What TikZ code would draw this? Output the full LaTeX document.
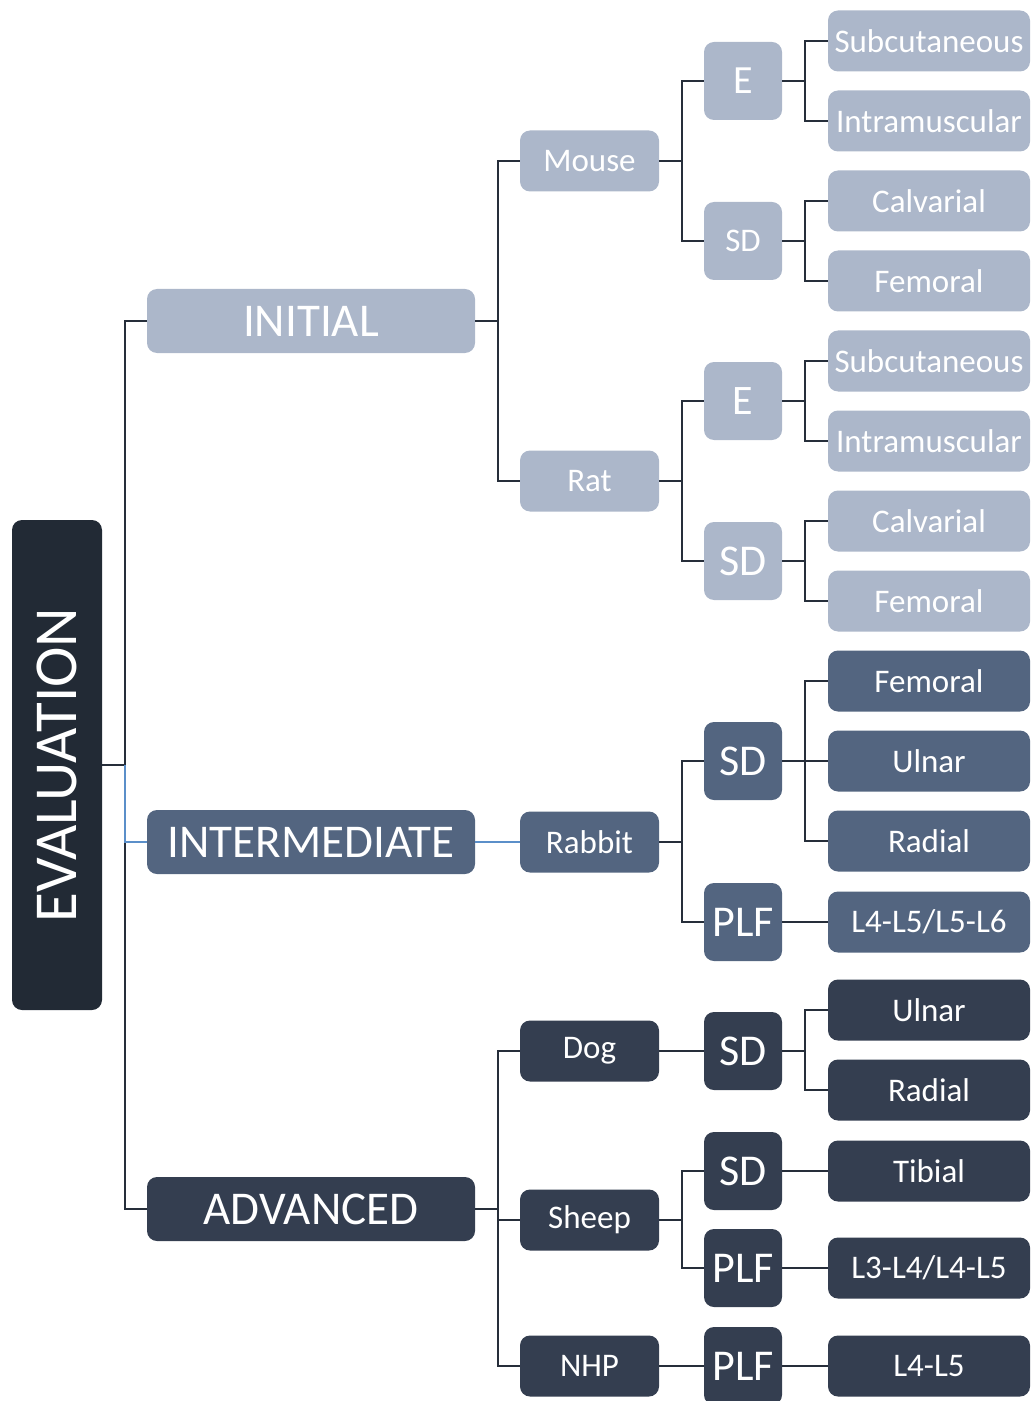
\documentclass[tikz,border=0pt]{standalone}
\usepackage{graphicx}
\usepackage{fontspec}
\setmainfont{Carlito}

\definecolor{palecol}{RGB}{172,183,202}
\definecolor{slatecol}{RGB}{83,101,128}
\definecolor{inkcol}{RGB}{52,62,80}
\definecolor{evalcol}{RGB}{34,42,53}
\definecolor{linecol}{RGB}{38,46,58}
\definecolor{bluecol}{RGB}{91,143,201}

\begin{document}
\begin{tikzpicture}[
                x=0.5pt, y=-0.5pt,
                box/.style={rectangle, rounded corners=5pt, text=white, inner sep=0pt},
                lvlone/.style={box, minimum width=164pt, minimum height=32pt, font=\fontsize{23.5}{23.5}\selectfont},
                lvltwo/.style={box, minimum width=69.5pt, minimum height=30.5pt, font=\fontsize{16.5}{16.5}\selectfont},
                lvlthree/.style={box, minimum width=39pt, minimum height=39pt, font=\fontsize{22}{22}\selectfont},
                leaf/.style={box, minimum width=101pt, minimum height=30.5pt, font=\fontsize{16.5}{16.5}\selectfont},
                pale/.style={fill=palecol},
                slate/.style={fill=slatecol},
                ink/.style={fill=inkcol},
                link/.style={draw=linecol, line width=1.2pt},
                bluelink/.style={draw=bluecol, line width=1pt},
            ]
            \useasboundingbox (0,0) rectangle (1030,1401);

            % root
            \node[box, fill=evalcol, minimum width=45pt, minimum height=245pt, font=\fontsize{30.5}{30.5}\selectfont] (eval) at (57,765) {\rotatebox{90}{EVALUATION}};

            % stages
            \node[lvlone, pale] (ini) at (311,321) {INITIAL};
            \node[lvlone, slate] (inter) at (311,842) {INTERMEDIATE};
            \node[lvlone, ink] (adv) at (311,1209) {ADVANCED};

            % animals
            \node[lvltwo, pale] (mouse) at (589.5,161) {Mouse};
            \node[lvltwo, pale] (rat) at (589.5,481) {Rat};
            \node[lvltwo, slate] (rabbit) at (589.5,842) {Rabbit};
            \node[lvltwo, ink] (dog) at (589.5,1051) {Dog};
            \node[lvltwo, ink] (sheep) at (589.5,1220) {Sheep};
            \node[lvltwo, ink] (nhp) at (589.5,1366) {NHP};

            % models
            \node[lvlthree, pale, font=\fontsize{20}{20}\selectfont] (mE) at (743,81) {E};
            \node[lvlthree, pale, font=\fontsize{16.5}{16.5}\selectfont] (mSD) at (743,241) {SD};
            \node[lvlthree, pale, font=\fontsize{21}{21}\selectfont] (rE) at (743,401) {E};
            \node[lvlthree, pale] (rSD) at (743,561) {SD};
            \node[lvlthree, slate] (rbSD) at (743,761) {SD};
            \node[lvlthree, slate] (rbPLF) at (743,922) {PLF};
            \node[lvlthree, ink] (dSD) at (743,1051) {SD};
            \node[lvlthree, ink] (sSD) at (743,1171) {SD};
            \node[lvlthree, ink] (sPLF) at (743,1268) {PLF};
            \node[lvlthree, ink] (nPLF) at (743,1366) {PLF};

            % sites
            \node[leaf, pale] (mSub) at (929,41) {Subcutaneous};
            \node[leaf, pale] (mIntra) at (929,121) {Intramuscular};
            \node[leaf, pale] (mCalv) at (929,201) {Calvarial};
            \node[leaf, pale] (mFem) at (929,281) {Femoral};
            \node[leaf, pale] (rSub) at (929,361) {Subcutaneous};
            \node[leaf, pale] (rIntra) at (929,441) {Intramuscular};
            \node[leaf, pale] (rCalv) at (929,521) {Calvarial};
            \node[leaf, pale] (rFem) at (929,601) {Femoral};
            \node[leaf, slate] (rbFem) at (929,681) {Femoral};
            \node[leaf, slate] (rbUln) at (929,761) {Ulnar};
            \node[leaf, slate] (rbRad) at (929,841) {Radial};
            \node[leaf, slate] (rbSeg) at (929,922) {L4-L5/L5-L6};
            \node[leaf, ink] (dUln) at (929,1010) {Ulnar};
            \node[leaf, ink] (dRad) at (929,1090) {Radial};
            \node[leaf, ink] (sTib) at (929,1171) {Tibial};
            \node[leaf, ink] (sSeg) at (929,1268) {L3-L4/L4-L5};
            \node[leaf, ink] (nSeg) at (929,1366) {L4-L5};

            % elbow connectors
            \foreach \p/\c in {eval/ini, eval/adv, ini/mouse, ini/rat,
                mouse/mE, mouse/mSD, mE/mSub, mE/mIntra, mSD/mCalv, mSD/mFem,
                rat/rE, rat/rSD, rE/rSub, rE/rIntra, rSD/rCalv, rSD/rFem,
                rabbit/rbSD, rabbit/rbPLF, rbSD/rbFem, rbSD/rbUln, rbSD/rbRad, rbPLF/rbSeg,
                adv/dog, adv/sheep, adv/nhp, dog/dSD, dSD/dUln, dSD/dRad,
                sheep/sSD, sheep/sPLF, sSD/sTib, sPLF/sSeg, nhp/nPLF, nPLF/nSeg}
                \draw[link] (\p.east) -- ++(22.5,0) |- (\c.west);

            % highlighted branch
            \path (eval.east) ++(22.5,0) coordinate (ej);
            \draw[bluelink] (ej) |- (inter.west);
            \draw[bluelink] (inter.east) -- (rabbit.west);
            \end{tikzpicture}
\end{document}
